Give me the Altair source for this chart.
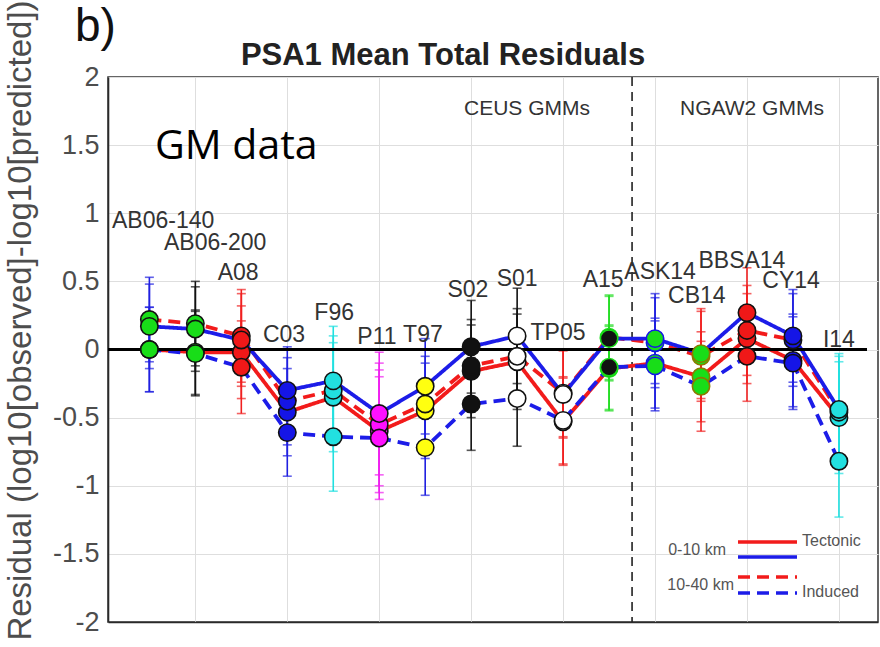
import altair as alt
import pandas as pd

# ---------------- data ----------------
gmms = ["AB06-140", "AB06-200", "A08", "C03", "F96", "P11", "T97", "S02",
        "S01", "TP05", "A15", "ASK14", "CB14", "BBSA14", "CY14", "I14"]
gmm_x = [1, 2, 3, 4, 5, 6, 7, 8, 9, 10, 11, 12, 13, 14, 15, 16]

tect_shallow = [0.00, -0.02, -0.02, -0.46, -0.35, -0.60, -0.45, -0.16,
                -0.09, -0.53, -0.14, -0.10, -0.20, 0.08, -0.08, -0.50]
tect_deep = [0.22, 0.19, 0.10, -0.38, -0.30, -0.55, -0.40, -0.12,
             -0.05, -0.32, 0.09, 0.05, -0.05, 0.14, 0.07, -0.46]
ind_shallow = [0.17, 0.15, 0.07, -0.30, -0.23, -0.47, -0.27, 0.02,
               0.10, -0.33, 0.08, 0.08, -0.03, 0.27, 0.10, -0.44]
ind_deep = [0.00, -0.03, -0.13, -0.61, -0.64, -0.65, -0.72, -0.40,
            -0.36, -0.52, -0.13, -0.12, -0.27, -0.05, -0.10, -0.82]
err_half = [0.31, 0.31, 0.34, 0.32, 0.40, 0.45, 0.35, 0.34,
            0.35, 0.32, 0.31, 0.33, 0.33, 0.33, 0.34, 0.41]

marker_fill = ["#18dd18", "#18dd18", "#f01818", "#1515e6", "#22e0e0", "#ff10ff",
               "#ffff10", "#111111", "#ffffff", "#ffffff", "#111111", "#18dd18",
               "#18dd18", "#f01818", "#1515e6", "#22e0e0"]
marker_edge = ["#111111", "#111111", "#111111", "#111111", "#111111", "#111111",
               "#111111", "#111111", "#111111", "#111111", "#18dd18", "#1515e6",
               "#8c7a00", "#111111", "#111111", "#111111"]
err_color = ["#2020e0", "#111111", "#f02020", "#2020e0", "#20e0e0", "#f020f0",
             "#2020e0", "#111111", "#111111", "#f02020", "#22dd22", "#2020e0",
             "#f02020", "#f02020", "#2020e0", "#20e0e0"]

label_x = [1.30, 2.43, 2.93, 3.93, 5.02, 5.95, 6.95, 7.93,
           9.00, 9.89, 10.87, 12.11, 12.91, 13.89, 14.96, 16.0]
label_y = [0.94, 0.78, 0.56, 0.11, 0.27, 0.09, 0.11, 0.44,
           0.52, 0.12, 0.51, 0.57, 0.39, 0.65, 0.50, 0.07]

series_names = ["Tectonic 0-10 km", "Tectonic 10-40 km",
                "Induced 0-10 km", "Induced 10-40 km"]
series_values = [tect_shallow, tect_deep, ind_shallow, ind_deep]
series_colors = ["#f21b1b", "#f21b1b", "#1c1ce8", "#1c1ce8"]
series_dash = [[1, 0], [12, 7], [1, 0], [12, 7]]

y_ticks = [-2, -1.5, -1, -0.5, 0, 0.5, 1, 1.5, 2]
x_grid = [2, 4, 6, 8, 10, 12, 14, 16]
separator_x = [11.5]
zero_y = [0]

# ---------------- tables ----------------
rows = []
for s, vals in zip(series_names, series_values):
    for i, g in enumerate(gmms):
        rows.append({"gmm": g, "x": gmm_x[i], "series": s, "v": vals[i],
                     "lo": vals[i] - err_half[i], "hi": vals[i] + err_half[i],
                     "fill": marker_fill[i], "edge": marker_edge[i],
                     "errc": err_color[i]})
df = pd.DataFrame(rows)
labels_df = pd.DataFrame({"gmm": gmms, "lx": label_x, "ly": label_y})

xs = alt.Scale(domain=[0.1, 16.85], nice=False, zero=False)
ys = alt.Scale(domain=[-2, 2], nice=False, zero=False)

FONT = "Liberation Sans"

Y_AXIS = dict(values=y_ticks, labelExpr="datum.value", labelFontSize=27,
              labelFont=FONT, labelColor="#4d4d4d", ticks=False, labelPadding=9,
              grid=True, gridColor="#dedede", gridWidth=1,
              domainColor="#2a2a2a", domainWidth=1.6,
              title="Residual (log10[observed]-log10[predicted])",
              titleFont=FONT, titleFontSize=33, titleFontWeight="normal",
              titleColor="#4d4d4d", titleAngle=270, titleX=-88, titleY=243,
              titleAlign="center", titleBaseline="middle")
X_AXIS = dict(values=x_grid, labels=False, ticks=False, grid=True,
              gridColor="#dedede", gridWidth=1, domainColor="#2a2a2a",
              domainWidth=1.6, title=None)


def X(field):
    return alt.X(field, scale=xs, axis=alt.Axis(**X_AXIS))


def Y(field):
    return alt.Y(field, scale=ys, axis=alt.Axis(**Y_AXIS))


base = alt.Chart(df)

err = base.mark_rule(strokeWidth=1.6).encode(
    x=X("x:Q"), y=Y("lo:Q"), y2="hi:Q",
    color=alt.Color("errc:N", scale=None),
)
caps = base.transform_fold(["lo", "hi"], as_=["end", "ev"]).mark_tick(
    orient="horizontal", size=9, thickness=1.6).encode(
    x=X("x:Q"), y=Y("ev:Q"),
    color=alt.Color("errc:N", scale=None),
)

sep = alt.Chart(pd.DataFrame({"sx": separator_x})).mark_rule(
    color="#222222", strokeWidth=1.6, strokeDash=[9, 6]).encode(x=X("sx:Q"))

lines = base.mark_line(strokeWidth=3.8).encode(
    x=X("x:Q"), y=Y("v:Q"),
    color=alt.Color("series:N", scale=alt.Scale(domain=series_names, range=series_colors), legend=None),
    strokeDash=alt.StrokeDash("series:N", scale=alt.Scale(domain=series_names, range=series_dash), legend=None),
    order="x:Q",
)

zero = alt.Chart(pd.DataFrame({"zy": zero_y})).mark_rule(
    color="#000000", strokeWidth=3).encode(
    y=Y("zy:Q"), x=alt.value(0), x2=alt.value(759))

pts = base.mark_circle(size=300, strokeWidth=1.6, opacity=1).encode(
    x=X("x:Q"), y=Y("v:Q"),
    fill=alt.Fill("fill:N", scale=None),
    stroke=alt.Stroke("edge:N", scale=None),
)

gmm_labels = alt.Chart(labels_df).mark_text(
    font=FONT, fontSize=23, color="#333333", align="center", baseline="middle").encode(
    x=X("lx:Q"), y=Y("ly:Q"), text="gmm:N",
)

one = pd.DataFrame({"k": [0]})


def note(text, x, y, size, align="left", baseline="middle", font=FONT,
         weight="normal", color="#333333"):
    return alt.Chart(one).mark_text(
        text=text, font=font, fontSize=size, fontWeight=weight, color=color,
        align=align, baseline=baseline).encode(x=alt.value(x), y=alt.value(y))


def leg_line(x1, x2, y, color, dash):
    return alt.Chart(one).mark_rule(color=color, strokeWidth=3.6, strokeDash=dash).encode(
        x=alt.value(x1), x2=alt.value(x2), y=alt.value(y))


annotations = [
    note("b)", -33, -36, 46, baseline="alphabetic", color="#111111"),
    note("PSA1 Mean Total Residuals", 335, -12, 31, align="center",
         baseline="alphabetic", weight="bold", color="#222222"),
    note("GM data", 47, 70, 41, font="Open Sans", color="#000000"),
    note("CEUS GMMs", 419, 32, 21, align="center", color="#333333"),
    note("NGAW2 GMMs", 644, 32, 21, align="center", color="#333333"),
    note("0-10 km", 618, 473, 16, align="right", color="#555555"),
    note("10-40 km", 626, 508, 16, align="right", color="#555555"),
    note("Tectonic", 694, 464, 16, color="#555555"),
    note("Induced", 694, 515, 16, color="#555555"),
    leg_line(630, 689, 465, "#f21b1b", [1, 0]),
    leg_line(630, 689, 480, "#1c1ce8", [1, 0]),
    leg_line(630, 689, 500, "#f21b1b", [12, 7]),
    leg_line(630, 689, 516, "#1c1ce8", [12, 7]),
]

chart = alt.layer(err, caps, sep, lines, zero, pts, gmm_labels, *annotations).properties(
    width=770, height=545,
    autosize=alt.AutoSizeParams(type="none"),
    padding={"left": 108, "top": 77, "right": 2, "bottom": 25},
    background="white",
).configure_view(stroke="#333333", strokeWidth=1.5)

chart.save("out.html", embed_options={"renderer": "svg", "actions": False})
